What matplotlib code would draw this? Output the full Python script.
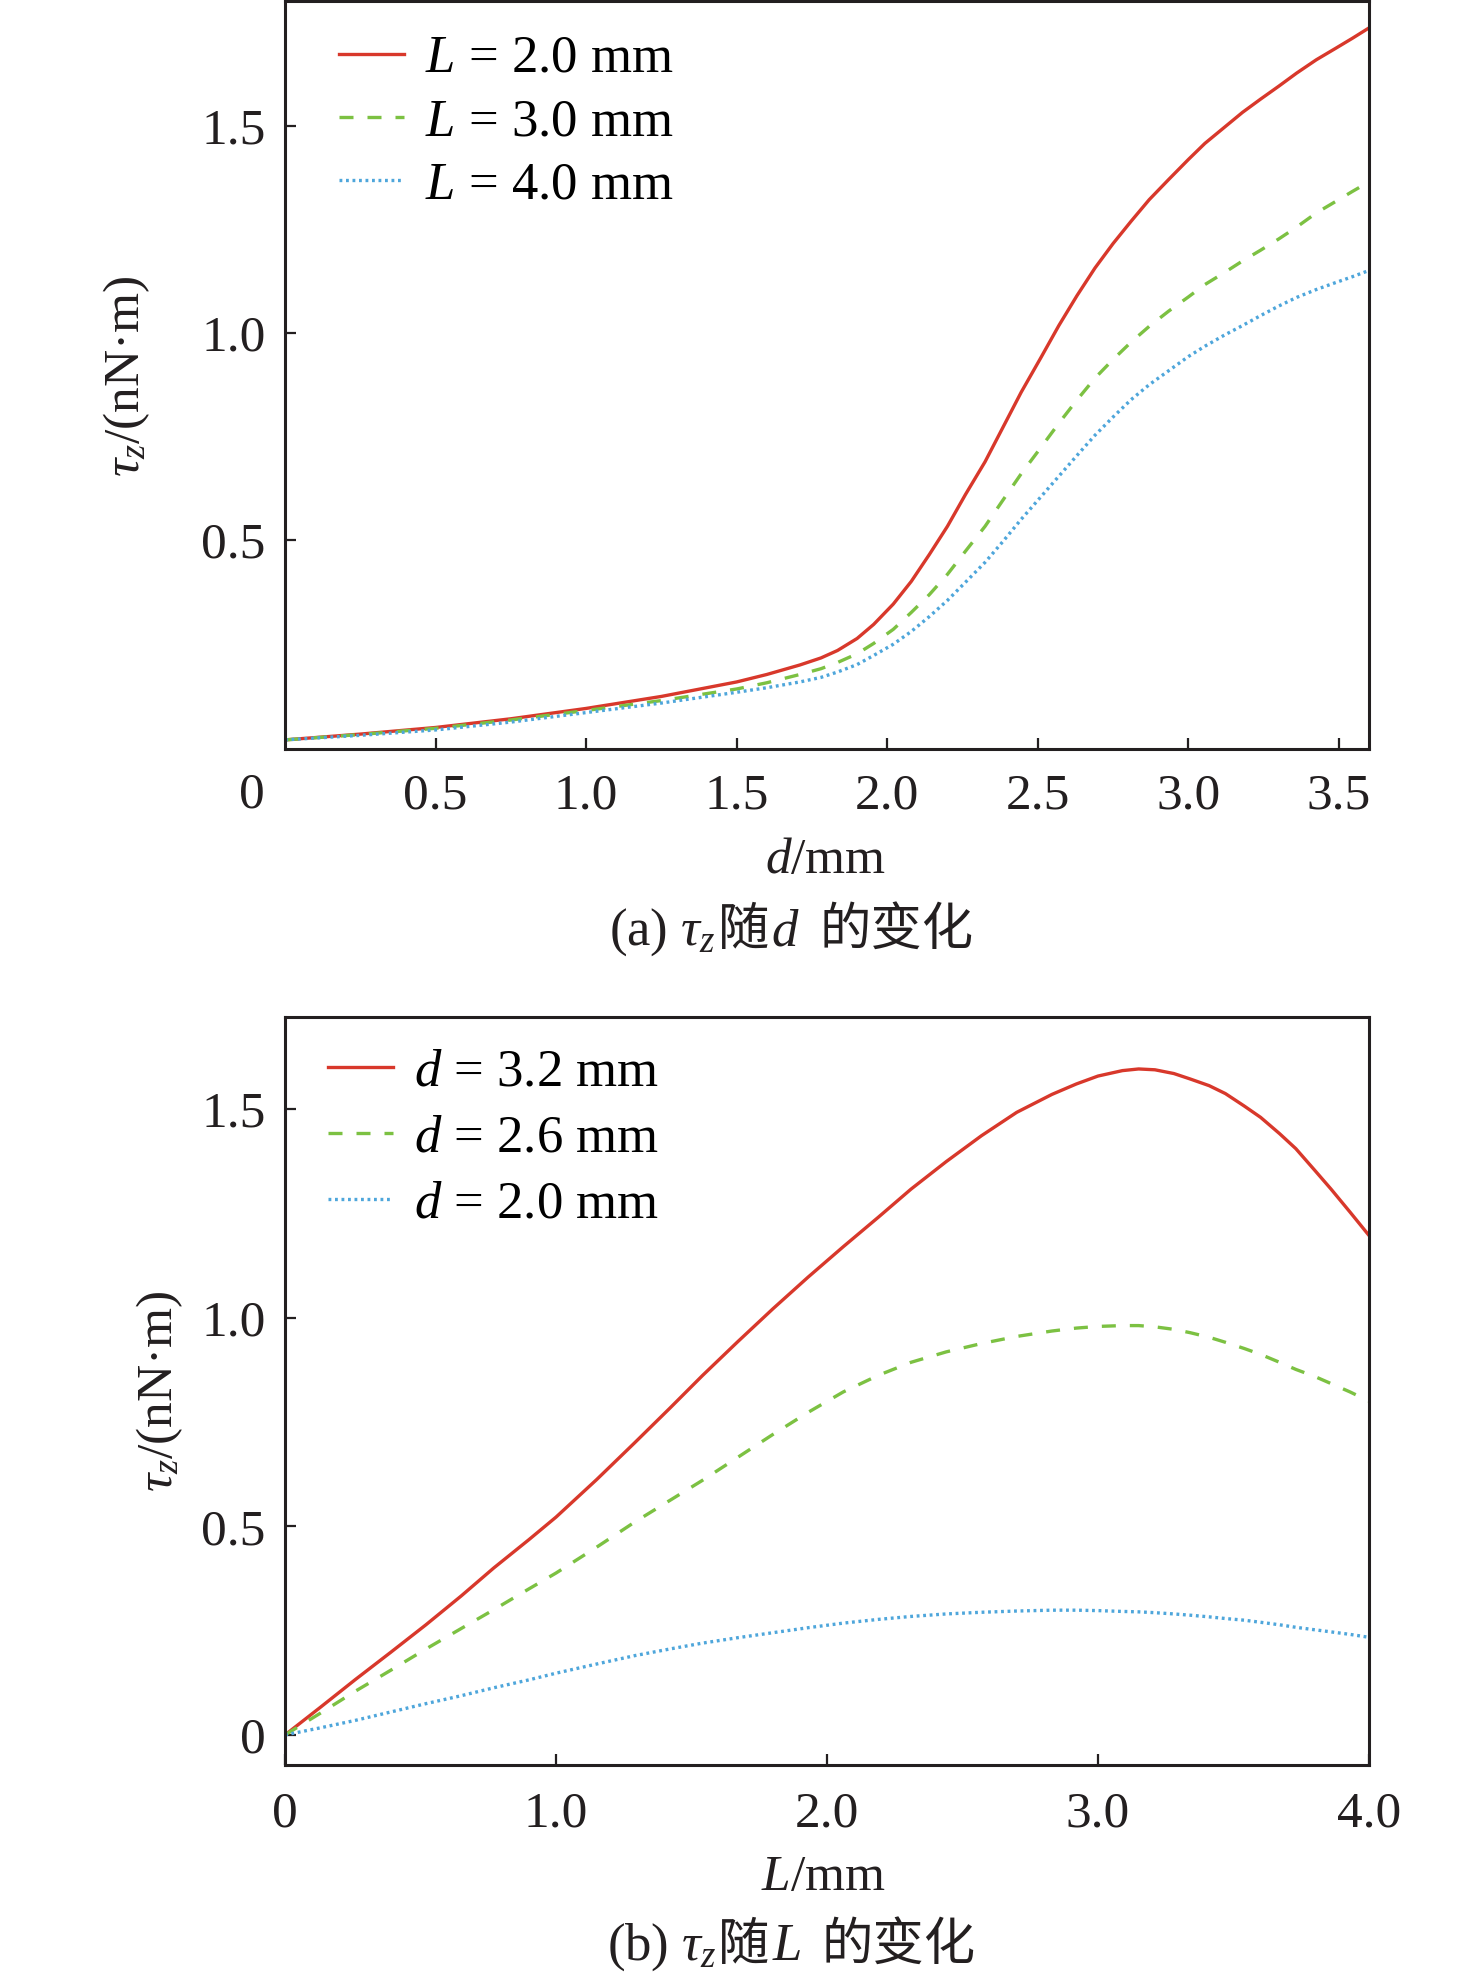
import matplotlib
matplotlib.use("Agg")
import matplotlib.pyplot as plt

plt.rcParams['font.family'] = ['Liberation Serif', 'DejaVu Serif']
plt.rcParams['mathtext.fontset'] = 'custom'
plt.rcParams['mathtext.rm'] = 'Liberation Serif'
plt.rcParams['mathtext.it'] = 'Liberation Serif:italic'

# (a) tau_z vs d for three L
d_vals = [0.0, 0.25, 0.5, 0.75, 1.0, 1.25, 1.5, 1.6, 1.71, 1.78, 1.835, 1.9, 1.955, 2.02, 2.08,
          2.14, 2.2, 2.26, 2.325, 2.385, 2.445, 2.51, 2.57, 2.63, 2.69, 2.75, 2.81, 2.87, 2.935,
          3.0, 3.055, 3.12, 3.18, 3.24, 3.3, 3.36, 3.425, 3.49, 3.545, 3.6]
tau_L2 = [0.017, 0.031, 0.047, 0.068, 0.093, 0.122, 0.157, 0.175, 0.198, 0.215, 0.233, 0.262,
          0.296, 0.345, 0.400, 0.465, 0.533, 0.610, 0.689, 0.773, 0.857, 0.940, 1.018, 1.090,
          1.157, 1.216, 1.270, 1.322, 1.371, 1.419, 1.458, 1.497, 1.533, 1.565, 1.596, 1.628,
          1.660, 1.688, 1.712, 1.737]
tau_L3 = [0.017, 0.030, 0.045, 0.065, 0.088, 0.112, 0.140, 0.155, 0.175, 0.189, 0.204, 0.225,
          0.250, 0.284, 0.325, 0.368, 0.417, 0.473, 0.533, 0.597, 0.660, 0.723, 0.782, 0.838,
          0.891, 0.936, 0.978, 1.016, 1.053, 1.087, 1.117, 1.146, 1.174, 1.200, 1.227, 1.256,
          1.290, 1.318, 1.342, 1.365]
tau_L4 = [0.017, 0.028, 0.041, 0.060, 0.083, 0.106, 0.132, 0.143, 0.157, 0.168, 0.181, 0.199,
          0.221, 0.248, 0.279, 0.315, 0.354, 0.398, 0.446, 0.497, 0.550, 0.604, 0.654, 0.704,
          0.753, 0.797, 0.839, 0.875, 0.909, 0.943, 0.968, 0.995, 1.018, 1.042, 1.065, 1.086,
          1.105, 1.122, 1.136, 1.151]

# (b) tau_z vs L for three d
L_vals = [0.0, 0.13, 0.26, 0.39, 0.52, 0.65, 0.77, 0.9, 1.0, 1.15, 1.29, 1.42, 1.54, 1.67, 1.8,
          1.93, 2.06, 2.19, 2.31, 2.44, 2.57, 2.7, 2.83, 2.92, 3.0, 3.09, 3.15, 3.21, 3.28, 3.34,
          3.41, 3.47, 3.54, 3.6, 3.67, 3.73, 3.8, 3.86, 3.93, 4.0]
tau_d32 = [0.0, 0.066, 0.133, 0.198, 0.264, 0.333, 0.400, 0.468, 0.522, 0.612, 0.700, 0.783,
           0.861, 0.942, 1.021, 1.097, 1.170, 1.241, 1.308, 1.374, 1.436, 1.492, 1.535, 1.560,
           1.579, 1.592, 1.596, 1.594, 1.585, 1.572, 1.556, 1.537, 1.507, 1.480, 1.441, 1.405,
           1.353, 1.308, 1.253, 1.197]
tau_d26 = [0.0, 0.052, 0.105, 0.155, 0.206, 0.255, 0.300, 0.350, 0.388, 0.450, 0.510, 0.562,
           0.610, 0.665, 0.720, 0.773, 0.822, 0.862, 0.893, 0.918, 0.938, 0.955, 0.968, 0.975,
           0.979, 0.981, 0.981, 0.978, 0.972, 0.964, 0.953, 0.941, 0.926, 0.912, 0.893, 0.876,
           0.859, 0.842, 0.822, 0.800]
tau_d20 = [0.0, 0.017, 0.035, 0.055, 0.075, 0.094, 0.113, 0.132, 0.148, 0.170, 0.190, 0.206,
           0.220, 0.233, 0.245, 0.257, 0.268, 0.277, 0.284, 0.290, 0.294, 0.297, 0.299, 0.299,
           0.298, 0.296, 0.295, 0.293, 0.290, 0.287, 0.283, 0.279, 0.275, 0.270, 0.264, 0.258,
           0.252, 0.247, 0.241, 0.234]

labels_a = [r"$L$ = 2.0 mm", r"$L$ = 3.0 mm", r"$L$ = 4.0 mm"]
labels_b = [r"$d$ = 3.2 mm", r"$d$ = 2.6 mm", r"$d$ = 2.0 mm"]
xticks_a = [0.5, 1.0, 1.5, 2.0, 2.5, 3.0, 3.5]
yticks_a = [0.5, 1.0, 1.5]
xticks_b = [0.0, 1.0, 2.0, 3.0, 4.0]
xticklabels_b = ["0", "1.0", "2.0", "3.0", "4.0"]
yticks_b = [0.0, 0.5, 1.0, 1.5]
yticklabels_b = ["0", "0.5", "1.0", "1.5"]

RED = '#d8382b'
GRN = '#7cc142'
BLU = '#4ea6db'
INK = '#231f20'
W, H = 1476, 1976
TICK_FS = 37
LW = 2.4

fig = plt.figure(figsize=(W / 100, H / 100), dpi=100)
ax1 = fig.add_axes([285 / W, 1 - 749 / H, 1084 / W, 748 / H])
ax2 = fig.add_axes([285 / W, 1 - 1765 / H, 1084 / W, 748 / H])


def style(ax, xpad):
    for s in ax.spines.values():
        s.set_linewidth(2.2)
        s.set_color(INK)
    ax.tick_params(direction='in', length=8, width=1.6, color=INK, labelsize=TICK_FS,
                   labelcolor=INK)
    ax.tick_params(axis='y', pad=14)
    ax.tick_params(axis='x', pad=xpad)


def curves(ax, x, y1, y2, y3, labels):
    ax.plot(x, y1, color=RED, lw=LW, label=labels[0])
    ax.plot(x, y2, color=GRN, lw=LW, dashes=(4.2, 4.2), dash_capstyle='butt', label=labels[1])
    ax.plot(x, y3, color=BLU, lw=LW, dashes=(0.85, 1.1), dash_capstyle='butt', label=labels[2])


def legend(ax, x_px, top_px, spacing):
    ax.legend(loc='upper left', bbox_to_anchor=(x_px / 1084, 1 - top_px / 748), frameon=False,
              fontsize=38, borderpad=0, borderaxespad=0, handlelength=1.23, handletextpad=0.40,
              labelspacing=spacing)


# panel (a)
curves(ax1, d_vals, tau_L2, tau_L3, tau_L4, labels_a)
ax1.set_xlim(0, 3.6)
ax1.set_ylim(-0.005, 1.802)
ax1.set_xticks(xticks_a)
ax1.set_xticklabels([f"{v:.1f}" for v in xticks_a])
ax1.set_yticks(yticks_a)
ax1.set_yticklabels([f"{v:.1f}" for v in yticks_a])
style(ax1, 17)
legend(ax1, 339 - 285, 34, 0.29)

# panel (b)
curves(ax2, L_vals, tau_d32, tau_d26, tau_d20, labels_b)
ax2.set_xlim(0, 4.0)
ax2.set_ylim(-0.072, 1.7205)
ax2.set_xticks(xticks_b)
ax2.set_xticklabels(xticklabels_b)
ax2.set_yticks(yticks_b)
ax2.set_yticklabels(yticklabels_b)
style(ax2, 19)
legend(ax2, 328 - 285, 31, 0.345)

# origin label of panel (a)
fig.text(252 / W, 1 - 795 / H, "0", fontsize=TICK_FS, ha='center', va='center', color=INK)

# axis labels
ylab = r"$\tau_z$/(nN·m)"
fig.text(127 / W, 1 - 376 / H, ylab, fontsize=37, rotation=90, ha='center', va='center',
         color=INK)
fig.text(160 / W, 1 - 1391 / H, ylab, fontsize=37, rotation=90, ha='center', va='center',
         color=INK)
fig.text(826 / W, 1 - 873 / H, r"$d$/mm", fontsize=37, ha='center', va='baseline', color=INK)
fig.text(823 / W, 1 - 1890 / H, r"$L$/mm", fontsize=37, ha='center', va='baseline', color=INK)

# captions built from pieces (Latin serif + CJK)
CJK = ['Noto Sans CJK SC']
SERIF = ['Liberation Serif']


def caption(x0, base, parts):
    texts = []
    for s, fam, size, gap in parts:
        t = fig.text(0, 1 - base / H, s, family=fam, fontsize=size, va='baseline', color=INK)
        texts.append((t, gap))
    fig.canvas.draw()
    r = fig.canvas.get_renderer()
    x = x0
    for t, gap in texts:
        x += gap
        t.set_x(x / W)
        x += t.get_window_extent(r).width


caption(609, 945, [(r"(a) $\tau_z$", SERIF, 38, 0), ("随", CJK, 37, 2), (r"$d$", SERIF, 38, 2),
                   ("的变化", CJK, 37, 20)])
caption(607, 1960, [(r"(b) $\tau_z$", SERIF, 38, 0), ("随", CJK, 37, 2), (r"$L$", SERIF, 38, 2),
                    ("的变化", CJK, 37, 20)])

fig.savefig("out.png", dpi=100)
